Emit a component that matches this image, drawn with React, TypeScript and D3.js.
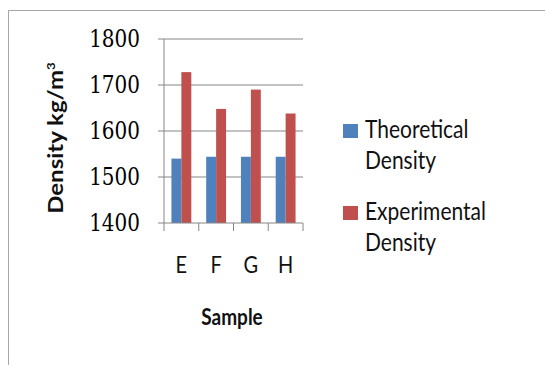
import React from "react";
import * as d3 from "d3";

const samples = ["E", "F", "G", "H"];
const seriesNames = ["Theoretical Density", "Experimental Density"];
const theoretical = [1540, 1544, 1544, 1544];
const experimental = [1728, 1648, 1690, 1638];
const yTicks = [1400, 1500, 1600, 1700, 1800];
const colors = ["#4F81BD", "#C0504D"];

const sans = "Lato, 'Open Sans', sans-serif";
// the source image is a bit stretched vertically, so texts get a vertical scale
const stretch = 1.2;

export default function App() {
  const x = d3.scaleBand<string>().domain(samples).range([164, 303]).padding(0);
  const inner = d3
    .scaleBand<string>()
    .domain(seriesNames)
    .range([0, x.bandwidth()])
    .paddingInner(0)
    .paddingOuter(0.75);
  const y = d3.scaleLinear().domain([1400, 1800]).range([223, 39]);
  const values = [theoretical, experimental];

  return (
    <svg
      width={545}
      height={365}
      style={{ position: "absolute", left: 0, top: 0, background: "#fff" }}
    >
      <rect x={8.5} y={10.5} width={545} height={360} fill="#fff" stroke="#a6a6a6" />

      {yTicks.map((t) => (
        <g key={t}>
          {t > 1400 && (
            <line x1={164} x2={303} y1={y(t)} y2={y(t)} stroke="#868686" strokeWidth={1} />
          )}
          <line x1={158} x2={164} y1={y(t)} y2={y(t)} stroke="#868686" />
          <text
            transform={`translate(140,${y(t) + 7.5}) scale(1,${stretch})`}
            textAnchor="end"
            fontFamily="'DejaVu Serif', serif"
            fontSize={20}
            fill="#000"
          >
            {t}
          </text>
        </g>
      ))}

      {samples.map((s, i) => (
        <g key={s}>
          {values.map((vals, k) => (
            <rect
              key={k}
              x={x(s)! + inner(seriesNames[k])!}
              y={y(vals[i])}
              width={inner.bandwidth()}
              height={y(1400) - y(vals[i])}
              fill={colors[k]}
            />
          ))}
          <text
            transform={`translate(${x(s)! + x.bandwidth() / 2},273) scale(1,${stretch})`}
            textAnchor="middle"
            fontFamily={sans}
            fontSize={20}
            fill="#111"
          >
            {s}
          </text>
        </g>
      ))}

      {/* axes */}
      <line x1={164} x2={164} y1={39} y2={223} stroke="#868686" />
      <line x1={164} x2={303} y1={223} y2={223} stroke="#868686" />
      {[...samples.map((s) => x(s)!), 303].map((px, i) => (
        <line key={i} x1={px} x2={px} y1={223} y2={231} stroke="#868686" />
      ))}

      <text
        transform={`translate(232,325) scale(1,${stretch})`}
        textAnchor="middle"
        fontFamily={sans}
        fontWeight="bold"
        fontSize={19}
        fill="#111"
      >
        Sample
      </text>

      <text
        transform={`translate(63,138) rotate(-90) scale(${stretch},1)`}
        textAnchor="middle"
        fontFamily={sans}
        fontWeight="bold"
        fontSize={20}
        fill="#111"
      >
        Density kg/m
        <tspan dy={-8} fontSize={11}>3</tspan>
      </text>

      {/* legend */}
      {seriesNames.map((name, k) => {
        const words = name.split(" ");
        const top = k === 0 ? 124 : 206;
        return (
          <g key={name}>
            <rect x={343} y={top} width={15} height={14} fill={colors[k]} />
            <text
              transform={`translate(365,${top + 14}) scale(1,${stretch})`}
              fontFamily={sans}
              fontSize={21}
              fill="#111"
            >
              {words[0]}
            </text>
            <text
              transform={`translate(365,${top + 45}) scale(1,${stretch})`}
              fontFamily={sans}
              fontSize={21}
              fill="#111"
            >
              {words[1]}
            </text>
          </g>
        );
      })}
    </svg>
  );
}
